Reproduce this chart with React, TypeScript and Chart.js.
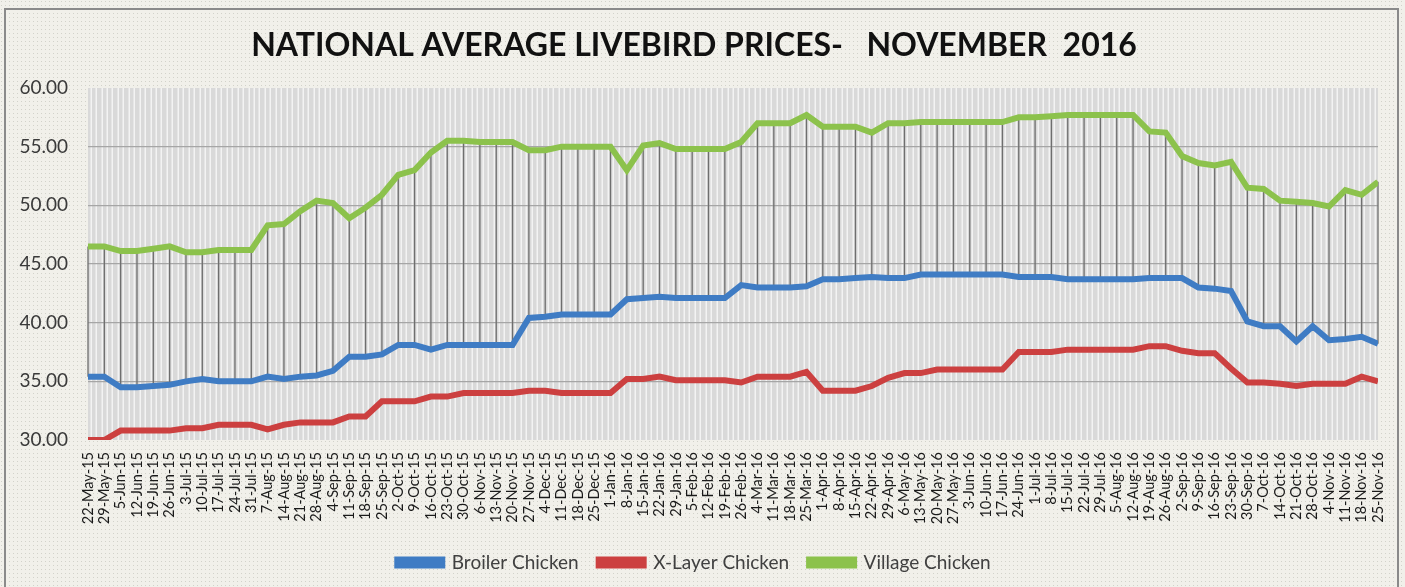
import React, { useEffect, useRef } from "react";
import { Chart, registerables } from "chart.js";

Chart.register(...registerables);

const TITLE = "NATIONAL AVERAGE LIVEBIRD PRICES-   NOVEMBER  2016";

const labels: string[] = [
  "22-May-15", "29-May-15", "5-Jun-15", "12-Jun-15", "19-Jun-15", "26-Jun-15", "3-Jul-15", "10-Jul-15",
  "17-Jul-15", "24-Jul-15", "31-Jul-15", "7-Aug-15", "14-Aug-15", "21-Aug-15", "28-Aug-15", "4-Sep-15",
  "11-Sep-15", "18-Sep-15", "25-Sep-15", "2-Oct-15", "9-Oct-15", "16-Oct-15", "23-Oct-15", "30-Oct-15",
  "6-Nov-15", "13-Nov-15", "20-Nov-15", "27-Nov-15", "4-Dec-15", "11-Dec-15", "18-Dec-15", "25-Dec-15",
  "1-Jan-16", "8-Jan-16", "15-Jan-16", "22-Jan-16", "29-Jan-16", "5-Feb-16", "12-Feb-16", "19-Feb-16",
  "26-Feb-16", "4-Mar-16", "11-Mar-16", "18-Mar-16", "25-Mar-16", "1-Apr-16", "8-Apr-16", "15-Apr-16",
  "22-Apr-16", "29-Apr-16", "6-May-16", "13-May-16", "20-May-16", "27-May-16", "3-Jun-16", "10-Jun-16",
  "17-Jun-16", "24-Jun-16", "1-Jul-16", "8-Jul-16", "15-Jul-16", "22-Jul-16", "29-Jul-16", "5-Aug-16",
  "12-Aug-16", "19-Aug-16", "26-Aug-16", "2-Sep-16", "9-Sep-16", "16-Sep-16", "23-Sep-16", "30-Sep-16",
  "7-Oct-16", "14-Oct-16", "21-Oct-16", "28-Oct-16", "4-Nov-16", "11-Nov-16", "18-Nov-16", "25-Nov-16",
];

const broiler: number[] = [
  35.4, 35.4, 34.5, 34.5, 34.6, 34.7, 35.0, 35.2, 35.0, 35.0,
  35.0, 35.4, 35.2, 35.4, 35.5, 35.9, 37.1, 37.1, 37.3, 38.1,
  38.1, 37.7, 38.1, 38.1, 38.1, 38.1, 38.1, 40.4, 40.5, 40.7,
  40.7, 40.7, 40.7, 42.0, 42.1, 42.2, 42.1, 42.1, 42.1, 42.1,
  43.2, 43.0, 43.0, 43.0, 43.1, 43.7, 43.7, 43.8, 43.9, 43.8,
  43.8, 44.1, 44.1, 44.1, 44.1, 44.1, 44.1, 43.9, 43.9, 43.9,
  43.7, 43.7, 43.7, 43.7, 43.7, 43.8, 43.8, 43.8, 43.0, 42.9,
  42.7, 40.1, 39.7, 39.7, 38.4, 39.7, 38.5, 38.6, 38.8, 38.2,
];

const xLayer: number[] = [
  30.0, 30.0, 30.8, 30.8, 30.8, 30.8, 31.0, 31.0, 31.3, 31.3,
  31.3, 30.9, 31.3, 31.5, 31.5, 31.5, 32.0, 32.0, 33.3, 33.3,
  33.3, 33.7, 33.7, 34.0, 34.0, 34.0, 34.0, 34.2, 34.2, 34.0,
  34.0, 34.0, 34.0, 35.2, 35.2, 35.4, 35.1, 35.1, 35.1, 35.1,
  34.9, 35.4, 35.4, 35.4, 35.8, 34.2, 34.2, 34.2, 34.6, 35.3,
  35.7, 35.7, 36.0, 36.0, 36.0, 36.0, 36.0, 37.5, 37.5, 37.5,
  37.7, 37.7, 37.7, 37.7, 37.7, 38.0, 38.0, 37.6, 37.4, 37.4,
  36.1, 34.9, 34.9, 34.8, 34.6, 34.8, 34.8, 34.8, 35.4, 35.0,
];

const village: number[] = [
  46.5, 46.5, 46.1, 46.1, 46.3, 46.5, 46.0, 46.0, 46.2, 46.2,
  46.2, 48.3, 48.4, 49.5, 50.4, 50.2, 48.9, 49.8, 50.9, 52.6,
  53.0, 54.5, 55.5, 55.5, 55.4, 55.4, 55.4, 54.7, 54.7, 55.0,
  55.0, 55.0, 55.0, 53.0, 55.1, 55.3, 54.8, 54.8, 54.8, 54.8,
  55.4, 57.0, 57.0, 57.0, 57.7, 56.7, 56.7, 56.7, 56.2, 57.0,
  57.0, 57.1, 57.1, 57.1, 57.1, 57.1, 57.1, 57.5, 57.5, 57.6,
  57.7, 57.7, 57.7, 57.7, 57.7, 56.3, 56.2, 54.2, 53.6, 53.4,
  53.7, 51.5, 51.4, 50.4, 50.3, 50.2, 49.9, 51.3, 50.9, 52.0,
];

const yTicks: number[] = [30, 35, 40, 45, 50, 55, 60];

const FONT = "Lato, 'Open Sans', sans-serif";

const backgroundPlugin = {
  id: "bgPlugin",
  beforeDraw(chart: any) {
    const { ctx, width, height, chartArea } = chart;
    ctx.save();
    const pc = document.createElement("canvas");
    pc.width = 4;
    pc.height = 4;
    const pctx = pc.getContext("2d")!;
    pctx.fillStyle = "#f1f0ea";
    pctx.fillRect(0, 0, 4, 4);
    pctx.fillStyle = "#d2d2ca";
    pctx.fillRect(1, 1, 1, 1);
    const pat = ctx.createPattern(pc, "repeat");
    ctx.fillStyle = pat || "#f1f0ea";
    ctx.fillRect(0, 0, width, height);
    ctx.strokeStyle = "#8a8a8a";
    ctx.lineWidth = 2;
    ctx.strokeRect(5, 9, 1393, height + 10);
    const { left, top, right, bottom } = chartArea;
    ctx.fillStyle = "#d9d9d9";
    ctx.fillRect(left, top, right - left, bottom - top);
    const step = (right - left) / (labels.length - 1) / 3;
    ctx.strokeStyle = "#f3f3f3";
    ctx.lineWidth = 1.5;
    ctx.beginPath();
    for (let x = left + step / 2; x < right; x += step) {
      ctx.moveTo(Math.round(x) + 0.25, top);
      ctx.lineTo(Math.round(x) + 0.25, bottom);
    }
    ctx.stroke();
    ctx.restore();
  },
};

const hiLoPlugin = {
  id: "hiLoPlugin",
  beforeDatasetsDraw(chart: any) {
    const { ctx } = chart;
    const xs = chart.scales.x;
    const ys = chart.scales.y;
    ctx.save();
    ctx.strokeStyle = "#6e6e6e";
    ctx.lineWidth = 1.3;
    ctx.beginPath();
    for (let i = 0; i < labels.length; i++) {
      const x = xs.getPixelForValue(i);
      ctx.moveTo(x, ys.getPixelForValue(village[i]));
      ctx.lineTo(x, ys.getPixelForValue(broiler[i]));
    }
    ctx.stroke();
    ctx.restore();
  },
};

export default function App() {
  const canvasRef = useRef<HTMLCanvasElement | null>(null);

  useEffect(() => {
    document.body.style.margin = "0";
    const canvas = canvasRef.current;
    if (!canvas) return;
    const chart = new Chart(canvas, {
      type: "line",
      data: {
        labels,
        datasets: [
          {
            label: "Broiler Chicken",
            data: broiler,
            borderColor: "#3f7cc4",
            backgroundColor: "#3f7cc4",
            borderWidth: 6,
            pointRadius: 0,
            tension: 0,
            clip: 0,
          },
          {
            label: "X-Layer Chicken",
            data: xLayer,
            borderColor: "#cc4040",
            backgroundColor: "#cc4040",
            borderWidth: 6,
            pointRadius: 0,
            tension: 0,
            clip: 0,
          },
          {
            label: "Village Chicken",
            data: village,
            borderColor: "#8cc24c",
            backgroundColor: "#8cc24c",
            borderWidth: 6,
            pointRadius: 0,
            tension: 0,
            clip: 0,
          },
        ],
      },
      options: {
        responsive: false,
        animation: false,
        layout: { padding: { left: 10, right: 27, top: 0, bottom: 5 } },
        plugins: {
          title: {
            display: true,
            text: TITLE,
            color: "#111111",
            font: { family: FONT, size: 32, weight: "bold" },
            padding: { top: 26, bottom: 23.6 },
          },
          legend: {
            position: "bottom",
            labels: {
              color: "#404040",
              font: { family: FONT, size: 19 },
              boxWidth: 45,
              boxHeight: 6,
              padding: 20,
            },
          },
          tooltip: { enabled: false },
        },
        scales: {
          x: {
            offset: false,
            grid: { display: false },
            border: { display: false },
            ticks: {
              autoSkip: false,
              maxRotation: 90,
              minRotation: 90,
              color: "#1a1a1a",
              font: { family: FONT, size: 14.5 },
              padding: 4,
            },
            afterFit(scale: any) {
              scale.height = 93;
            },
          },
          y: {
            min: 30,
            max: 60,
            afterBuildTicks(scale: any) {
              scale.ticks = yTicks.map((v) => ({ value: v }));
            },
            grid: {
              color: (c: any) =>
                c.tick && (c.tick.value === 30 || c.tick.value === 60) ? "rgba(0,0,0,0)" : "#a6a6a6",
              lineWidth: 1.3,
              drawTicks: false,
            },
            border: { display: false },
            ticks: {
              color: "#3a3a3a",
              font: { family: FONT, size: 19 },
              padding: 20,
              callback: (v: any) => Number(v).toFixed(2),
            },
            afterFit(scale: any) {
              scale.width = 78;
            },
          },
        },
      },
      plugins: [backgroundPlugin, hiLoPlugin],
    });
    return () => chart.destroy();
  }, []);

  return (
    <div style={{ position: "absolute", left: 0, top: 0, width: 1405, height: 587 }}>
      <canvas ref={canvasRef} width={1405} height={587} style={{ width: 1405, height: 587 }} />
    </div>
  );
}
